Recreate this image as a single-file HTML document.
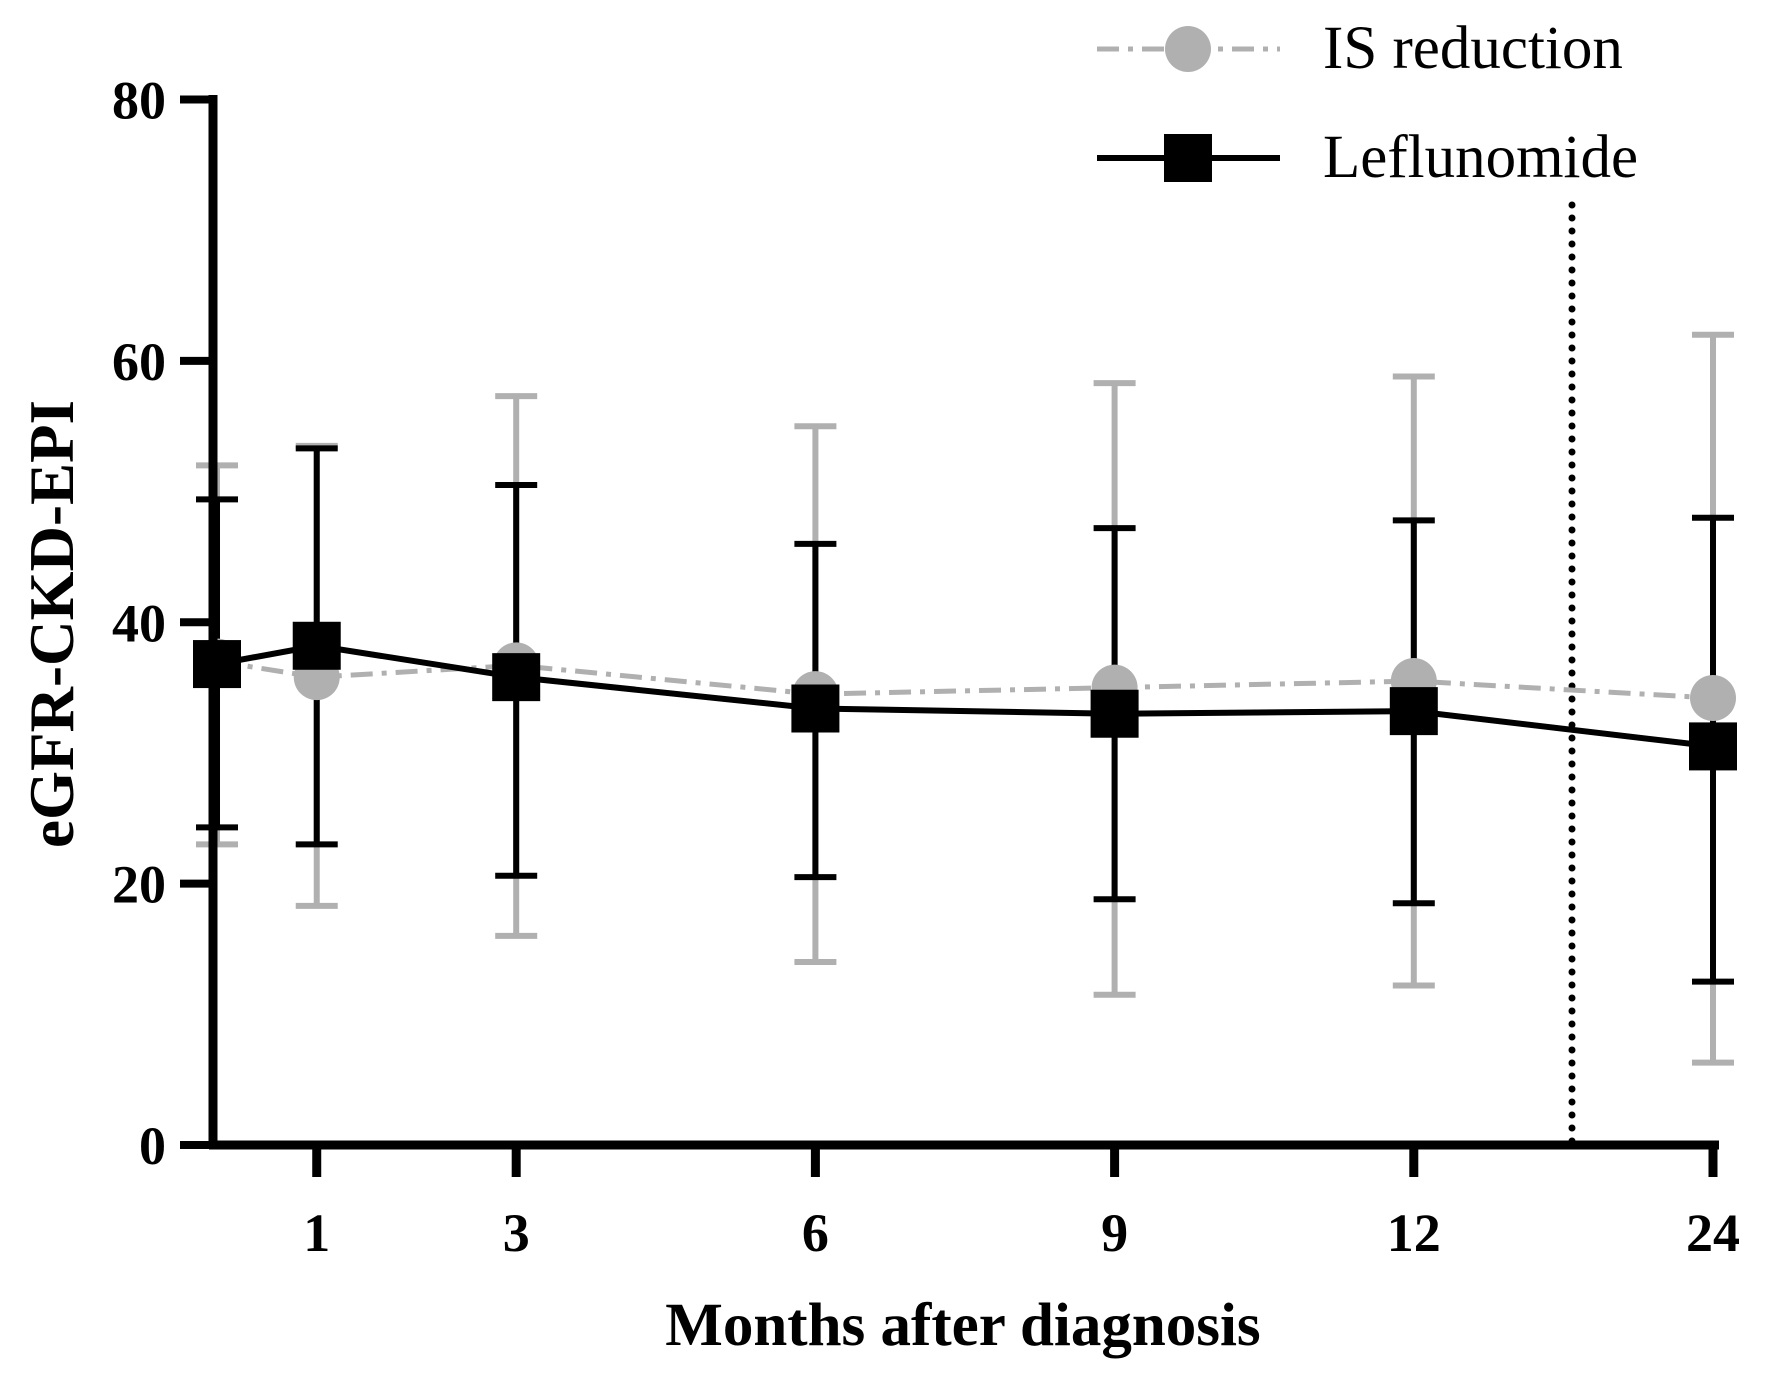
<!DOCTYPE html>
<html><head><meta charset="utf-8"><style>
body{margin:0;background:#fff}
svg{display:block}
text{font-family:"Liberation Serif",serif;font-weight:bold}
</style></head><body>
<svg id="chart" width="1772" height="1379" viewBox="0 0 1772 1379" xmlns="http://www.w3.org/2000/svg">
<g id="plot"></g>
<text x="0" y="0" font-size="63" text-anchor="middle" transform="translate(73,624) rotate(-90)">eGFR-CKD-EPI</text>
<text x="963" y="1345" font-size="61" text-anchor="middle">Months after diagnosis</text>
<g>
 <line x1="1097" y1="49" x2="1280" y2="49" stroke="#b0b0b0" stroke-width="5" stroke-dasharray="22,9,5,9"/>
 <circle cx="1188" cy="49" r="23" fill="#b0b0b0"/>
 <text x="1323" y="68" font-size="61" style="font-weight:normal">IS reduction</text>
 <line x1="1097" y1="158" x2="1280" y2="158" stroke="#000" stroke-width="6"/>
 <rect x="1164" y="134" width="48" height="48" fill="#000"/>
 <text x="1323" y="177" font-size="61" style="font-weight:normal">Leflunomide</text>
</g>
</svg>
<script>
const categories=["0","1","3","6","9","12","24"];
const tickLabels=["","1","3","6","9","12","24"];
const yTicks=[0,20,40,60,80];
const isMean=[37.0,35.8,36.7,34.5,35.0,35.5,34.2];
const isLow=[23.0,18.3,16.0,14.0,11.5,12.2,6.3];
const isHigh=[52.0,53.5,57.3,55.0,58.3,58.8,62.0];
const lefMean=[36.8,38.2,35.8,33.4,33.0,33.2,30.5];
const lefLow=[24.3,23.0,20.6,20.5,18.8,18.5,12.5];
const lefHigh=[49.4,53.3,50.5,46.0,47.2,47.8,48.0];
const xPos=[0,1,3,6,9,12,15];
const NS="http://www.w3.org/2000/svg";
const g=document.getElementById('plot');
function X(i){return 217+xPos[i]*(1713-217)/15;}
function Y(v){return 1145-v*(1145-99.5)/80;}
function mk(tag,attrs){const e=document.createElementNS(NS,tag);for(const k in attrs)e.setAttribute(k,attrs[k]);g.appendChild(e);return e;}
let d=mk('line',{x1:1572,y1:205,x2:1572,y2:1145,stroke:'#000','stroke-width':7,'stroke-dasharray':'0,13','stroke-linecap':'round'});


function errs(lo,hi,col,w,name){
 for(let i=0;i<categories.length;i++){
  const x=X(i);
  const p=mk('path',{d:`M${x},${Y(lo[i])}V${Y(hi[i])}M${x-21},${Y(lo[i])}h42M${x-21},${Y(hi[i])}h42`,stroke:col,'stroke-width':w,fill:'none'});
  
  
 }
}
errs(isLow,isHigh,'#b0b0b0',6,'is-reduction');
errs(lefLow,lefHigh,'#000',6,'leflunomide');
let l1=mk('polyline',{points:isMean.map((v,i)=>X(i)+','+Y(v)).join(' '),fill:'none',stroke:'#b0b0b0','stroke-width':5,'stroke-dasharray':'22,9,5,9'});


isMean.forEach((v,i)=>{const c=mk('circle',{cx:X(i),cy:Y(v),r:23,fill:'#b0b0b0'});

});
let l2=mk('polyline',{points:lefMean.map((v,i)=>X(i)+','+Y(v)).join(' '),fill:'none',stroke:'#000','stroke-width':6});


lefMean.forEach((v,i)=>{const r=mk('rect',{x:X(i)-24,y:Y(v)-24,width:48,height:48,fill:'#000'});

});
let ya=mk('line',{x1:213,y1:95,x2:213,y2:1149,stroke:'#000','stroke-width':9});


let xa=mk('line',{x1:209,y1:1145,x2:1719,y2:1145,stroke:'#000','stroke-width':9});


yTicks.forEach(v=>{
 const t=mk('line',{x1:180,y1:Y(v),x2:213,y2:Y(v),stroke:'#000','stroke-width':8});
 
 
 const tx=mk('text',{x:166,y:Y(v)+19,'font-size':54,'text-anchor':'end'});
 tx.textContent=v;
 
 
});
categories.forEach((c,i)=>{
 if(i===0)return;
 const t=mk('line',{x1:X(i),y1:1145,x2:X(i),y2:1177,stroke:'#000','stroke-width':9});
 
 
 const tx=mk('text',{x:X(i),y:1251,'font-size':54,'text-anchor':'middle'});
 tx.textContent=tickLabels[i];
 
 
});
</script>
</body></html>
